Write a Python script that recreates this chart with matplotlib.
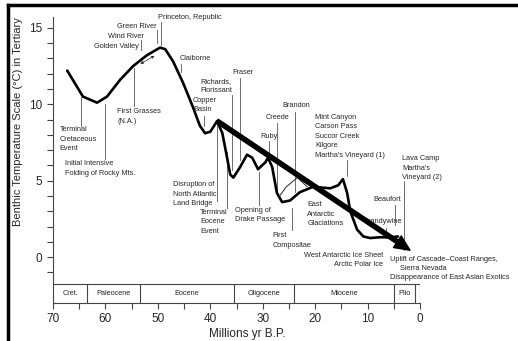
import matplotlib.pyplot as plt
from matplotlib.lines import Line2D

plt.rcParams['font.family'] = ['Liberation Sans', 'DejaVu Sans']

# benthic temperature curve (Myr B.P., deg C)
age = [67.3, 64.3, 61.6, 59.7, 57.2, 54.7, 52.1, 49.6, 48.6, 47.1, 45.2, 43.3, 42.0, 41.0,
       40.0, 38.7, 37.7, 36.8, 36.2, 35.6, 34.3, 33.0, 32.0, 30.9, 29.5, 29.0, 28.2, 27.3,
       26.3, 24.8, 22.9, 20.4, 17.1, 15.6, 14.7, 13.9, 13.3, 12.0, 10.8, 9.5, 7.6, 5.7, 4.2]
temp = [12.2, 10.5, 10.1, 10.5, 11.6, 12.5, 13.2, 13.7, 13.6, 12.8, 11.4, 9.8, 8.6, 8.1,
        8.2, 8.9, 8.1, 6.5, 5.4, 5.2, 5.9, 6.7, 6.5, 5.75, 6.2, 6.5, 5.9, 4.2,
        3.6, 3.7, 4.25, 4.6, 4.5, 4.7, 5.1, 4.2, 3.0, 1.8, 1.35, 1.25, 1.3, 1.3, 1.35]

# thin upper trace in the Oligocene/Miocene
age_thin = [27.0, 25.5, 23.4, 21.5]
temp_thin = [3.9, 4.6, 5.2, 4.6]

# trend arrow (start, end)
trend_age = [38.7, 1.9]
trend_temp = [8.9, 0.45]

epochs = ['Cret.', 'Paleocene', 'Eocene', 'Oligocene', 'Miocene', 'Plio', '']
epoch_edges = [70, 63.5, 53.5, 35.5, 24, 5, 1, 0]

# (text, age, temp, ha)
labels = [
    ('Terminal\nCretaceous\nEvent', 68.7, 7.7, 'left'),
    ('Initial Intensive\nFolding of Rocky Mts.', 67.7, 5.8, 'left'),
    ('First Grasses\n(N.A.)', 57.8, 9.2, 'left'),
    ('Golden Valley', 53.6, 13.75, 'right'),
    ('Wind River', 52.7, 14.4, 'right'),
    ('Green River', 50.2, 15.06, 'right'),
    ('Princeton, Republic', 50.0, 15.7, 'left'),
    ('Claiborne', 45.8, 13.0, 'left'),
    ('Richards,\nFlorissant', 41.9, 11.2, 'left'),
    ('Fraser', 35.8, 12.05, 'left'),
    ('Copper\nBasin', 43.3, 9.95, 'left'),
    ('Disruption of\nNorth Atlantic\nLand Bridge', 47.1, 4.1, 'left'),
    ('Terminal\nEocene\nEvent', 41.9, 2.3, 'left'),
    ('Opening of\nDrake Passage', 35.3, 2.75, 'left'),
    ('Ruby', 30.5, 7.86, 'left'),
    ('Creede', 29.5, 9.1, 'left'),
    ('Brandon', 26.3, 9.9, 'left'),
    ('First\nCompositae', 28.2, 1.1, 'left'),
    ("Mint Canyon\nCarson Pass\nSuccor Creek\nKilgore\nMartha's Vineyard (1)", 20.0, 7.9, 'left'),
    ('East\nAntarctic\nGlaciations', 21.5, 2.8, 'left'),
    ("Lava Camp\nMartha's\nVineyard (2)", 3.4, 5.8, 'left'),
    ('Beaufort', 8.9, 3.8, 'left'),
    ('Brandywine', 3.4, 2.3, 'right'),
    ('West Antarctic Ice Sheet', 7.0, 0.13, 'right'),
    ('Arctic Polar Ice', 7.0, -0.46, 'right'),
    ('Uplift of Cascade\u2013Coast Ranges,', 5.7, -0.13, 'left'),
    ('Sierra Nevada', 3.8, -0.72, 'left'),
    ('Disappearance of East Asian Exotics', 5.7, -1.31, 'left'),
]

# leader lines (age, temp top, temp bottom)
leaders = [
    (64.7, 10.5, 8.6), (60.1, 10.0, 6.4), (54.5, 12.4, 9.9), (53.2, 14.2, 13.55),
    (50.2, 14.87, 14.0), (49.4, 15.4, 13.9), (45.6, 12.6, 12.1), (41.2, 9.2, 8.6),
    (38.7, 8.8, 3.7), (36.8, 6.9, 3.2), (35.8, 10.6, 5.7), (34.3, 11.7, 6.35),
    (30.7, 5.6, 3.4), (28.8, 7.6, 6.5), (27.25, 8.8, 4.1), (23.8, 9.5, 4.25),
    (24.4, 3.2, 1.77), (13.9, 6.35, 5.3), (3.0, 5.0, 0.46), (4.7, 3.4, 2.1),
    (6.45, 1.9, 1.25),
]

fig = plt.figure(figsize=(5.18, 3.41), dpi=100)
ax = fig.add_axes([0.1014, 0.1114, 0.7094, 0.8386])

ink = '#262626'
ax.plot(age, temp, color='black', lw=1.9, solid_joinstyle='round', solid_capstyle='round', zorder=3)
ax.plot(age_thin, temp_thin, color=ink, lw=0.7, zorder=3)
ax.annotate('', xy=(50.2, 13.25), xytext=(53.8, 12.55),
            arrowprops=dict(arrowstyle='<|-|>', lw=0.5, color=ink, mutation_scale=4))

for a, t0, t1 in leaders:
    ax.plot([a, a], [t0, t1], color='#555555', lw=0.6, zorder=2)

for txt, a, t, ha in labels:
    ax.text(a, t, txt, fontsize=5.3, color=ink, ha=ha, va='center', linespacing=1.5, zorder=4)

ax.annotate('', xy=(trend_age[1], trend_temp[1]), xytext=(trend_age[0], trend_temp[0]),
            arrowprops=dict(width=3.0, headwidth=10, headlength=11, color='black'), zorder=5)

# geologic time band under the plot
band_lo, band_hi = -3.0, -1.76
ax.plot([70.1, 0], [band_hi, band_hi], color='#444444', lw=0.8)
for e in epoch_edges[1:]:
    ax.plot([e, e], [band_lo, band_hi], color='#444444', lw=0.8)
for name, e0, e1 in zip(epochs, epoch_edges[:-1], epoch_edges[1:]):
    ax.text((e0 + e1) / 2, (band_lo + band_hi) / 2, name, fontsize=5.3, color=ink,
            ha='center', va='center')

ax.set_xlim(70.1, 0)
ax.set_ylim(band_lo, 15.7)
ax.set_xticks(range(0, 71, 10))
ax.set_xticks(range(0, 71, 5), minor=True)
ax.set_yticks([0, 5, 10, 15])
ax.set_yticks(range(-1, 16), minor=True)
for s in ['top', 'right']:
    ax.spines[s].set_visible(False)
for s in ['left', 'bottom']:
    ax.spines[s].set_color('#444444')
    ax.spines[s].set_linewidth(0.8)
ax.tick_params(which='both', direction='out', length=4, width=0.8, color='#444444',
               labelsize=8.5, labelcolor=ink)
ax.tick_params(axis='x', pad=3)

fig.text(18 / 518, 1 - 122 / 341, 'Benthic Temperature Scale (\u00b0C) in Tertiary',
         rotation=90, ha='center', va='center', fontsize=8, color=ink)
fig.text(247 / 518, 1 - 334 / 341, 'Millions yr B.P.', ha='center', va='center',
         fontsize=8.5, color=ink)

# scan frame (left and top edges)
fig.add_artist(Line2D([8 / 518, 8 / 518], [0, 1 - 5 / 341], color='black', lw=2.5))
fig.add_artist(Line2D([8 / 518, 1], [1 - 5 / 341, 1 - 5 / 341], color='black', lw=2.5))

fig.savefig('out.png', dpi=100)
